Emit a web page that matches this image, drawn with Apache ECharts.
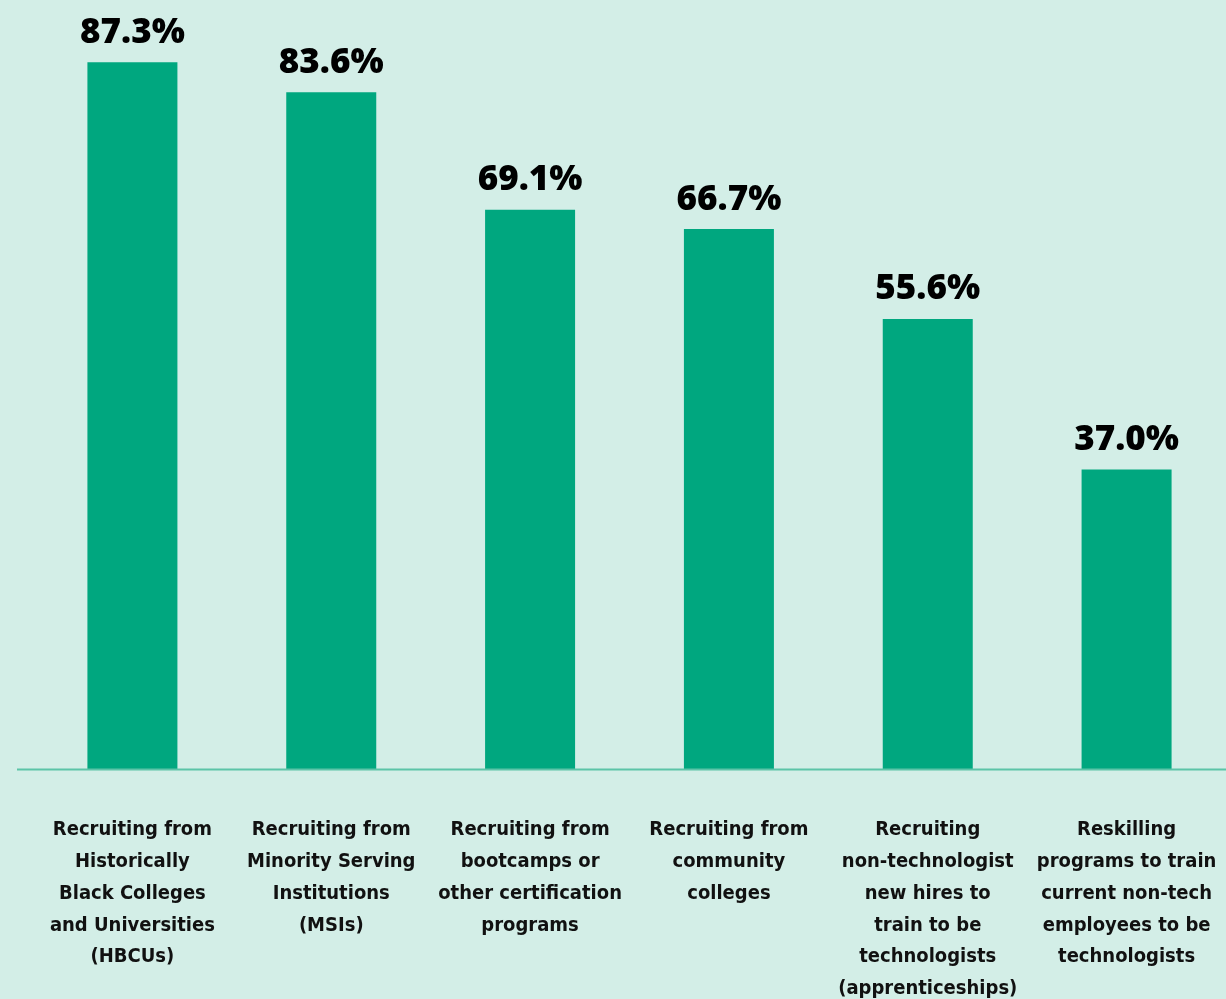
<!DOCTYPE html>
<html>
<head>
<meta charset="utf-8">
<script src="https://cdn.jsdelivr.net/npm/echarts@6/dist/echarts.min.js"></script>
<style>
  html, body { margin: 0; padding: 0; background: #d3eee7; }
  #chart { width: 1226px; height: 999px; }
</style>
</head>
<body>
<div id="chart"></div>
<script>
// Talent-pipeline strategies and share of respondents using each
const categories = [
  'Recruiting from\nHistorically\nBlack Colleges\nand Universities\n(HBCUs)',
  'Recruiting from\nMinority Serving\nInstitutions\n(MSIs)',
  'Recruiting from\nbootcamps or\nother certification\nprograms',
  'Recruiting from\ncommunity\ncolleges',
  'Recruiting\nnon-technologist\nnew hires to\ntrain to be\ntechnologists\n(apprenticeships)',
  'Reskilling\nprograms to train\ncurrent non-tech\nemployees to be\ntechnologists'
];
const values = [87.3, 83.6, 69.1, 66.7, 55.6, 37.0];

const chart = echarts.init(document.getElementById('chart'));
const condensed = '"Liberation Sans Narrow", "DejaVu Sans Condensed", "Roboto", sans-serif';

chart.setOption({
  backgroundColor: '#d3eee7',
  animation: false,
  grid: {
    left: 33, right: 0, top: 0, bottom: 230,
    containLabel: false,
    outerBoundsMode: 'none'
  },
  xAxis: {
    type: 'category',
    data: categories,
    axisLine: { show: false },
    axisTick: { show: false },
    axisLabel: {
      interval: 0,
      margin: 45,
      color: '#111111',
      fontFamily: condensed,
      fontWeight: 'bold',
      fontSize: 20,
      lineHeight: 31.8,
      align: 'center',
      verticalAlign: 'top'
    }
  },
  yAxis: {
    type: 'value',
    min: 0,
    max: 95,
    show: false,
    splitLine: { show: false }
  },
  series: [{
    type: 'bar',
    data: values,
    barWidth: 90,
    itemStyle: { color: '#00a77f' },
    label: {
      show: true,
      position: 'top',
      distance: 12,
      formatter: p => p.value.toFixed(1) + '%',
      color: '#000000',
      fontFamily: '"Open Sans", "DejaVu Sans", sans-serif',
      fontWeight: 800,
      fontSize: 35
    }
  }]
});

// Baseline rule spanning the plot width, placed at the value-axis zero
const y0 = chart.convertToPixel({ yAxisIndex: 0 }, 0);
chart.setOption({
  graphic: [{
    type: 'line',
    shape: { x1: 17, y1: y0 + 0.5, x2: 1226, y2: y0 + 0.5 },
    style: { stroke: '#5cc4a8', lineWidth: 2 },
    z: 10
  }]
});
</script>
</body>
</html>
